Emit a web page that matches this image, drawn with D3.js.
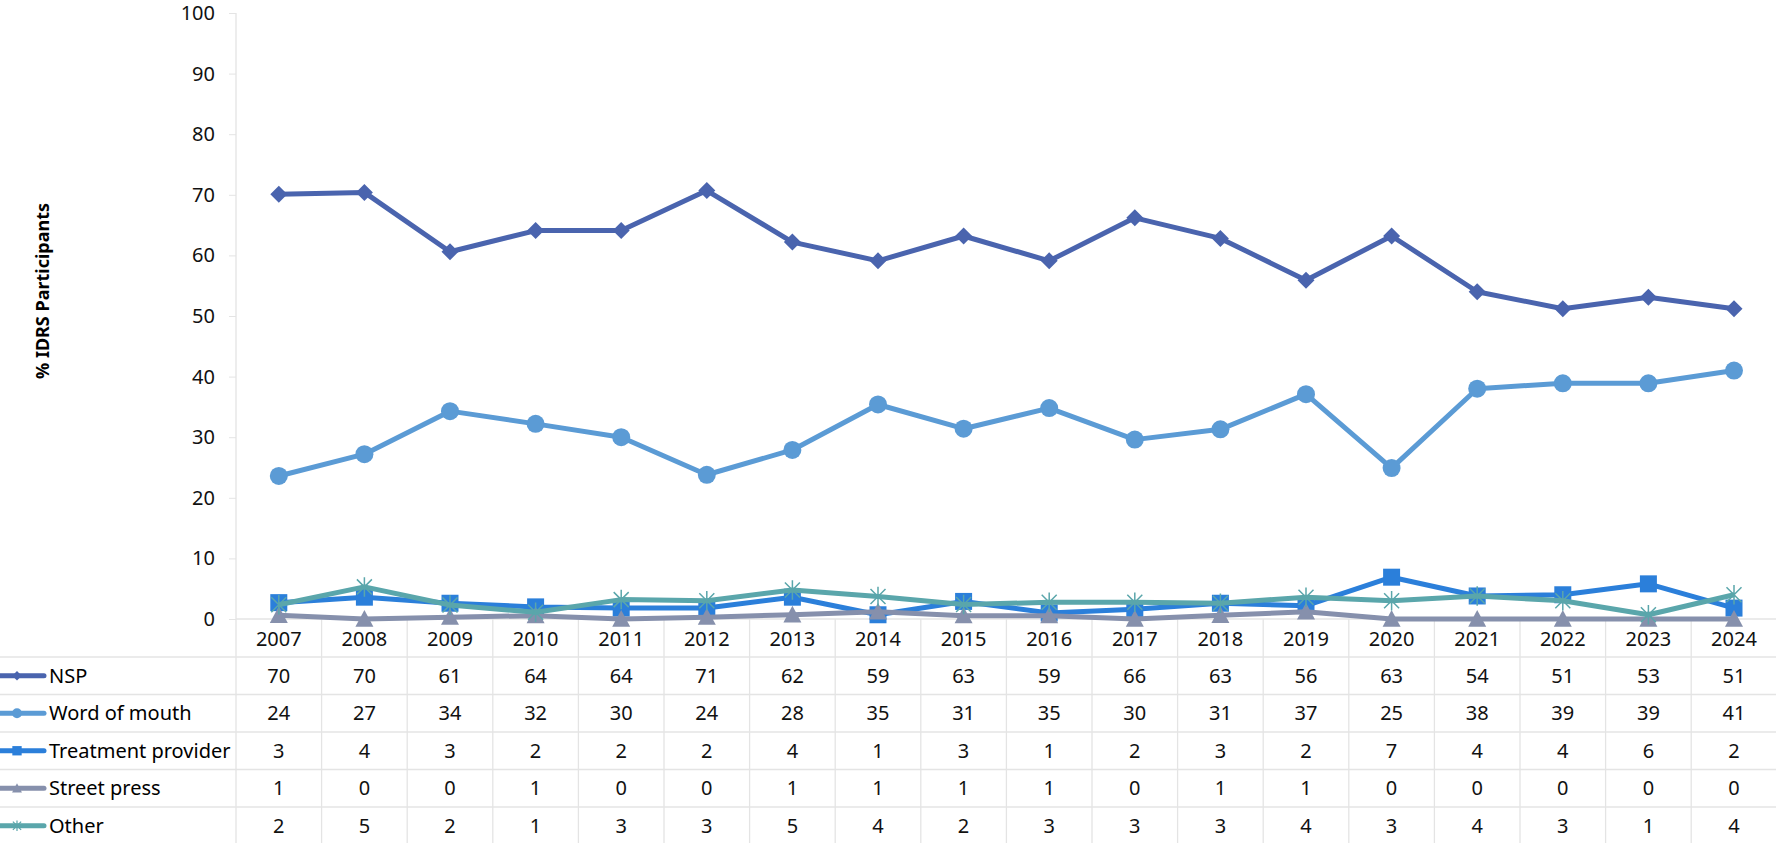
<!DOCTYPE html>
<html>
<head>
<meta charset="utf-8">
<script src="https://cdn.jsdelivr.net/npm/d3@7"></script>
<style>
  body { margin: 0; background: #fff; }
  svg { display: block; font-family: "Noto Sans", "Open Sans", sans-serif; }
</style>
</head>
<body>
<svg id="chart" width="1776" height="843"></svg>
<script>
// data
var years = ["2007", "2008", "2009", "2010", "2011", "2012", "2013", "2014", "2015",
  "2016", "2017", "2018", "2019", "2020", "2021", "2022", "2023", "2024"];
var seriesNames = ["NSP", "Word of mouth", "Treatment provider", "Street press", "Other"];
var nsp = [70.1, 70.4, 60.6, 64.1, 64.1, 70.7, 62.2, 59.1, 63.2, 59.1, 66.2, 62.8, 55.9, 63.2, 54.0, 51.2, 53.1, 51.2];
var wordOfMouth = [23.6, 27.2, 34.3, 32.2, 30.0, 23.8, 27.9, 35.4, 31.4, 34.8, 29.6, 31.3, 37.1, 24.9, 38.0, 38.9, 38.9, 41.0];
var treatment = [2.7, 3.6, 2.6, 2.0, 1.8, 1.8, 3.6, 0.7, 2.9, 1.0, 1.6, 2.6, 2.2, 6.9, 3.8, 4.0, 5.8, 1.8];
var streetPress = [0.6, 0, 0.3, 0.55, 0, 0.3, 0.7, 1.2, 0.55, 0.55, 0, 0.6, 1.2, 0, 0, 0, 0, 0];
var other = [2.35, 5.3, 2.3, 1.1, 3.2, 3.0, 4.8, 3.7, 2.4, 2.75, 2.75, 2.6, 3.6, 3.0, 3.8, 3.0, 0.7, 4.0];
var yTicks = [0, 10, 20, 30, 40, 50, 60, 70, 80, 90, 100];

var seriesValues = [nsp, wordOfMouth, treatment, streetPress, other];
var colors = ["#4a64ae", "#5b9bd5", "#2b7fda", "#8690ac", "#5aa6ab"];
var markers = ["diamond", "circle", "square", "triangle", "star"];

var svg = d3.select("#chart");
var plotLeft = 236, plotTop = 13, zeroY = 619, rowH = 37.5;
var gridColor = "#e4e4e4";
var fs = 20;

var x = d3.scaleBand().domain(years).range([plotLeft, plotLeft + 18 * 85.6]).paddingInner(0);
var y = d3.scaleLinear().domain([0, 100]).range([zeroY, plotTop]);
var cx = function(yr) { return x(yr) + x.bandwidth() / 2; };

// y axis
var yAxis = svg.append("g")
  .attr("transform", "translate(" + plotLeft + ",0)")
  .call(d3.axisLeft(y).tickValues(yTicks).tickSize(7).tickPadding(14));
yAxis.select(".domain").remove();
yAxis.selectAll(".tick line").attr("stroke", gridColor);
yAxis.selectAll(".tick text").attr("font-size", fs).attr("fill", "#111")
  .attr("font-family", "Noto Sans");

svg.append("text")
  .attr("transform", "translate(49,291) rotate(-90)")
  .attr("text-anchor", "middle")
  .attr("font-size", 18).attr("font-weight", "bold").attr("fill", "#000")
  .text("% IDRS Participants");

// grid: left axis, zero line, table lines
svg.append("line").attr("x1", plotLeft).attr("x2", plotLeft).attr("y1", plotTop).attr("y2", 843)
  .attr("stroke", gridColor).attr("stroke-width", 1.3);
svg.append("line").attr("x1", plotLeft).attr("x2", 1776).attr("y1", zeroY).attr("y2", zeroY)
  .attr("stroke", gridColor).attr("stroke-width", 1.3);
svg.selectAll("line.vgrid").data(years.slice(1)).enter().append("line")
  .attr("class", "vgrid")
  .attr("x1", function(d) { return x(d); }).attr("x2", function(d) { return x(d); })
  .attr("y1", zeroY).attr("y2", 843)
  .attr("stroke", gridColor).attr("stroke-width", 1.3);
svg.selectAll("line.hgrid").data(seriesNames).enter().append("line")
  .attr("class", "hgrid")
  .attr("x1", 0).attr("x2", 1776)
  .attr("y1", function(d, i) { return zeroY + 38 + i * rowH; })
  .attr("y2", function(d, i) { return zeroY + 38 + i * rowH; })
  .attr("stroke", gridColor).attr("stroke-width", 1.3);

// year labels
svg.selectAll("text.year").data(years).enter().append("text")
  .attr("class", "year")
  .attr("x", cx).attr("y", zeroY + 20)
  .attr("dy", "0.35em").attr("text-anchor", "middle")
  .attr("font-size", fs).attr("fill", "#111")
  .text(function(d) { return d; });

function markerPath(type, s) {
  if (type === "diamond") return "M0," + (-s) + "L" + s + ",0L0," + s + "L" + (-s) + ",0Z";
  if (type === "square") return "M" + (-s) + "," + (-s) + "h" + 2 * s + "v" + 2 * s + "h" + (-2 * s) + "Z";
  if (type === "triangle") return "M0," + (-s) + "L" + s + "," + s * 0.85 + "L" + (-s) + "," + s * 0.85 + "Z";
  if (type === "circle") return d3.symbol(d3.symbolCircle, Math.PI * s * s)();
  // star: X plus vertical stroke
  return "M" + (-s) + "," + (-s) + "L" + s + "," + s + "M" + s + "," + (-s) + "L" + (-s) + "," + s +
    "M0," + (-s * 1.3) + "L0," + s * 1.3;
}
var markerSize = [8.5, 9, 8.5, 9, 7.5];

var line = d3.line()
  .x(function(d, i) { return cx(years[i]); })
  .y(function(d) { return y(d); });

seriesValues.forEach(function(vals, k) {
  var g = svg.append("g");
  g.append("path").attr("d", line(vals))
    .attr("fill", "none").attr("stroke", colors[k]).attr("stroke-width", 5)
    .attr("stroke-linejoin", "round");
  g.selectAll("path.mk").data(vals).enter().append("path")
    .attr("class", "mk")
    .attr("transform", function(d, i) { return "translate(" + cx(years[i]) + "," + y(d) + ")"; })
    .attr("d", markerPath(markers[k], markerSize[k]))
    .attr("fill", markers[k] === "star" ? "none" : colors[k])
    .attr("stroke", colors[k])
    .attr("stroke-width", markers[k] === "star" ? 1.5 : 0);

  // table row
  var rowY = zeroY + 38 + k * rowH + rowH / 2;
  svg.append("line").attr("x1", 0).attr("x2", 44).attr("y1", rowY).attr("y2", rowY)
    .attr("stroke", colors[k]).attr("stroke-width", 5).attr("stroke-linecap", "round");
  svg.append("path").attr("transform", "translate(17," + rowY + ")")
    .attr("d", markerPath(markers[k], markerSize[k] * 0.55))
    .attr("fill", markers[k] === "star" ? "none" : colors[k])
    .attr("stroke", colors[k]).attr("stroke-width", markers[k] === "star" ? 1.2 : 0);
  svg.append("text").attr("x", 49).attr("y", rowY).attr("dy", "0.35em")
    .attr("font-size", fs).attr("fill", "#000").text(seriesNames[k]);
  svg.selectAll("text.v" + k).data(vals).enter().append("text")
    .attr("class", "v" + k)
    .attr("x", function(d, i) { return cx(years[i]); }).attr("y", rowY)
    .attr("dy", "0.35em").attr("text-anchor", "middle")
    .attr("font-size", fs).attr("fill", "#111")
    .text(function(d) { return Math.round(d); });
});
</script>
</body>
</html>
